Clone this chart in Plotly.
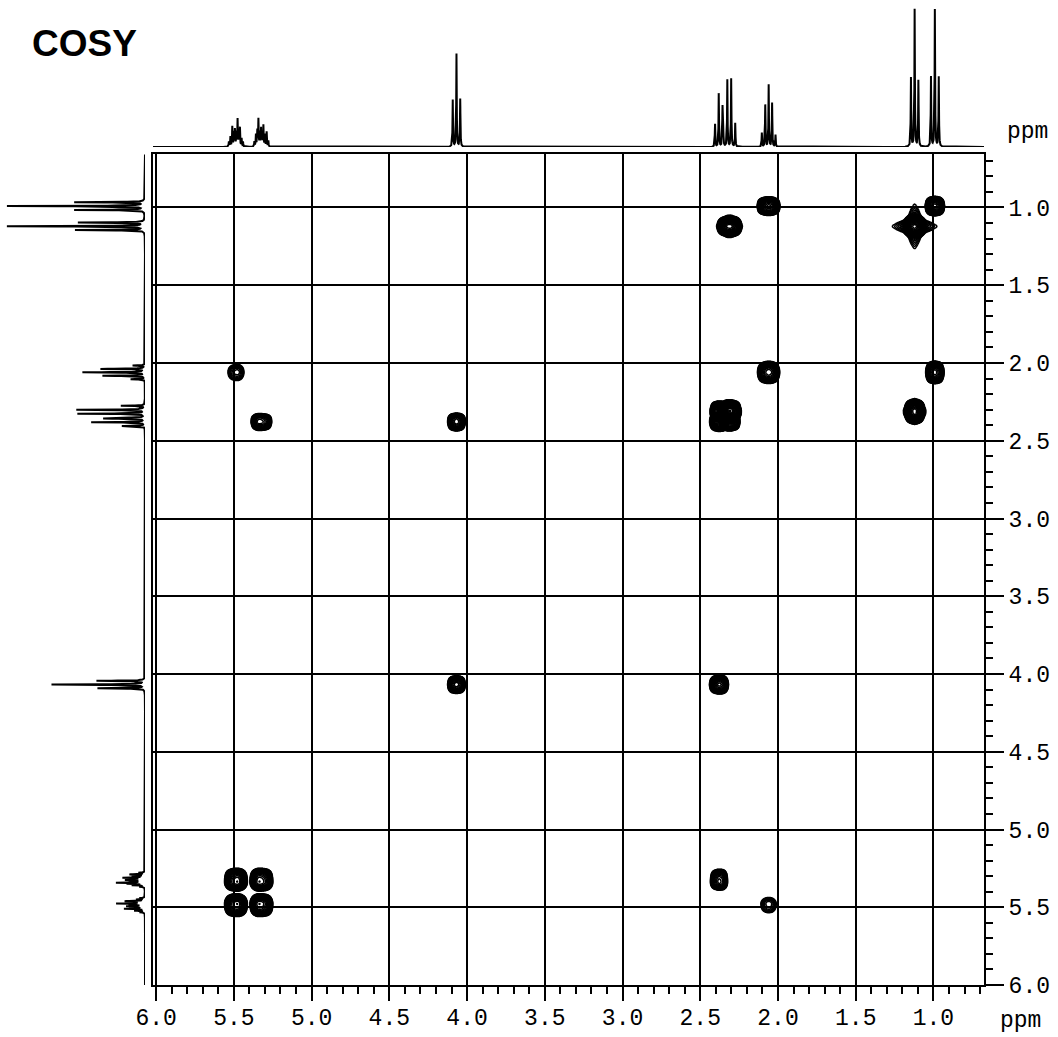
import numpy as np
import plotly.graph_objects as go

W, H = 1058, 1037

mult_pos = {
    "H4": [5.532, 5.522, 5.510, 5.500, 5.493, 5.484, 5.476, 5.468, 5.461, 5.450, 5.441],
    "H3": [5.368, 5.358, 5.349, 5.342, 5.333, 5.325, 5.318, 5.310, 5.300, 5.289, 5.278],
    "H1": [4.092, 4.068, 4.044],
    "H2": [2.405, 2.381, 2.357],
    "Hp": [2.352, 2.326, 2.301, 2.275],
    "H5": [2.104, 2.082, 2.060, 2.038, 2.016],
    "Me1": [1.145, 1.121, 1.097],
    "Me2": [1.016, 0.991, 0.966],
}
mult_hgt = {
    "H4": [5, 10, 20, 14, 17, 14, 27, 12, 19, 8, 5],
    "H3": [5, 12, 16, 27, 14, 18, 13, 21, 12, 15, 6],
    "H1": [47, 93, 48],
    "H2": [23, 54, 40],
    "Hp": [14, 67, 69, 24],
    "H5": [14, 42, 62, 44, 12],
    "Me1": [70, 139, 67],
    "Me2": [70, 139, 70],
}

# COSY peaks: F2 multiplet, F1 multiplet, relative intensity
peak_f2 = ["Me2", "H5", "Me1", "Hp", "Me2", "H5", "H4", "Me1", "Hp", "H2", "Hp", "H2",
           "H1", "H3", "H2", "H1", "H4", "H3", "H2", "H4", "H3", "H5"]
peak_f1 = ["Me2", "Me2", "Me1", "Me1", "H5", "H5", "H5", "Hp", "Hp", "Hp", "H2", "H2",
           "H2", "H2", "H1", "H1", "H3", "H3", "H3", "H4", "H4", "H4"]
peak_amp = [1.0, 0.7, 15.0, 3.0, 0.6, 0.5, 0.06, 3.0, 1.6, 0.5, 0.5, 0.8,
            0.5, 0.3, 0.9, 0.5, 0.8, 0.8, 0.35, 0.8, 0.8, 0.05]

x_range = [6.02, 0.675]
y_range = [6.0, 0.656]


def lorentz(g, p, w):
    return 1.0 / (1.0 + ((g - p) / w) ** 2)


def shape2d(g, key):
    s = np.zeros_like(g)
    for p, h in zip(mult_pos[key], mult_hgt[key]):
        s += h * (0.96 * np.exp(-0.5 * ((g - p) / 0.013) ** 2) + 0.04 * lorentz(g, p, 0.014))
    return s / s.max()


# 1D projection
ax = np.arange(0.66, 6.05, 0.0004)
spec = np.zeros_like(ax)
for key in mult_pos:
    for p, h in zip(mult_pos[key], mult_hgt[key]):
        spec += h * lorentz(ax, p, 0.0018)

fig = go.Figure()

for f2, f1, amp in zip(peak_f2, peak_f1, peak_amp):
    pad = 0.16 if amp > 5 else 0.1
    gx = np.arange(min(mult_pos[f2]) - pad, max(mult_pos[f2]) + pad, 0.0035)
    gy = np.arange(min(mult_pos[f1]) - pad, max(mult_pos[f1]) + pad, 0.0035)
    z = amp * shape2d(gx, f2)[None, :] * shape2d(gy, f1)[:, None]
    z = np.round(np.log10(np.clip(z, 1e-6, None)), 3)
    fig.add_trace(go.Contour(
        x=np.round(gx, 4), y=np.round(gy, 4), z=z,
        xaxis="x", yaxis="y",
        colorscale=[[0, "black"], [1, "black"]], showscale=False,
        contours=dict(coloring="lines", start=-2.0, end=1.3, size=0.1),
        line=dict(width=1.5, smoothing=0), hoverinfo="skip",
    ))

fig.add_trace(go.Scatter(x=ax, y=spec, mode="lines", line=dict(color="black", width=2),
                         xaxis="x2", yaxis="y2", hoverinfo="skip"))
fig.add_trace(go.Scatter(x=spec, y=ax, mode="lines", line=dict(color="black", width=2),
                         xaxis="x3", yaxis="y3", hoverinfo="skip"))

tick_font = dict(family="Liberation Mono", size=23, color="black")
minor = dict(dtick=0.1, tick0=0, ticks="outside", ticklen=7, tickwidth=1.5,
             tickcolor="black", showgrid=False)
main_x = [153 / W, 984 / W]
main_y = [1 - 985 / H, 1 - 154 / H]

fig.update_layout(
    width=W, height=H, autosize=False, margin=dict(l=0, r=0, t=0, b=0),
    paper_bgcolor="white", plot_bgcolor="white", showlegend=False,
    xaxis=dict(domain=main_x, range=x_range, anchor="y", side="bottom",
               showline=True, mirror=True, linecolor="black", linewidth=2,
               showgrid=True, gridcolor="black", gridwidth=2, zeroline=False,
               ticks="outside", ticklen=14, tickwidth=2, tickcolor="black",
               tick0=0, dtick=0.5, tickformat=".1f", tickfont=tick_font, minor=minor,
               ticklabelstandoff=-4, automargin=False),
    yaxis=dict(domain=main_y, range=y_range, anchor="x", side="right",
               showline=True, mirror=True, linecolor="black", linewidth=2,
               showgrid=True, gridcolor="black", gridwidth=2, zeroline=False,
               ticks="outside", ticklen=18, tickwidth=2, tickcolor="black",
               tick0=0, dtick=0.5, tickformat=".1f", tickfont=tick_font, minor=minor,
               automargin=False),
    xaxis2=dict(domain=main_x, range=x_range, anchor="y2", visible=False),
    yaxis2=dict(domain=[1 - 147 / H, 1], range=[0, 147], anchor="x2", visible=False),
    xaxis3=dict(domain=[0, 145 / W], range=[145, 0], anchor="y3", visible=False),
    yaxis3=dict(domain=main_y, range=y_range, anchor="x3", visible=False),
    annotations=[
        dict(text="<b>COSY</b>", x=30 / W, y=1 - 44 / H, xref="paper", yref="paper",
             xanchor="left", yanchor="middle", showarrow=False,
             font=dict(family="Liberation Sans", size=37, color="black")),
        dict(text="ppm", x=1020 / W, y=1 - 1021 / H, xref="paper", yref="paper",
             xanchor="center", yanchor="middle", showarrow=False, font=tick_font),
        dict(text="ppm", x=1027 / W, y=1 - 132 / H, xref="paper", yref="paper",
             xanchor="center", yanchor="middle", showarrow=False, font=tick_font),
    ],
)

fig.write_html("out.html", config={"displayModeBar": False},
               post_script="document.body.style.margin='0';")
